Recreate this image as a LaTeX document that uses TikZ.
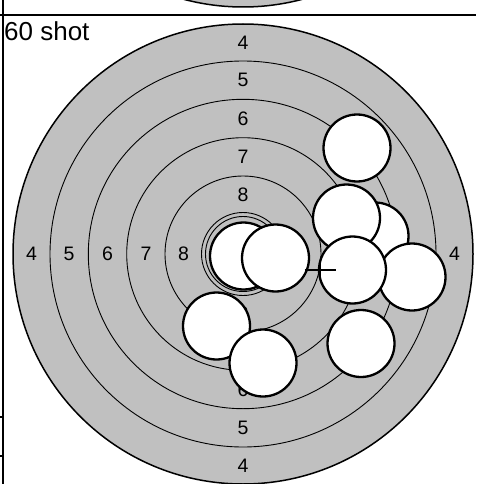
\documentclass[tikz,border=0pt]{standalone}
\usepackage{fontspec}
\setmainfont{Liberation Sans}
\usetikzlibrary{calc}
\definecolor{tgray}{RGB}{192,192,192}
\begin{document}
\begin{tikzpicture}[x=1pt,y=-1pt,
  ringline/.style={draw=black,line width=0.9pt},
  outerring/.style={fill=tgray,draw=black,line width=1.5pt},
  shotmark/.style={circle,draw=black,fill=white,line width=2.3pt,minimum size=67pt,inner sep=0pt},
  lbl/.style={font=\fontsize{19.5}{20}\selectfont,inner sep=0pt},
  frameline/.style={draw=black,line width=1.5pt}]
\useasboundingbox (0,0) rectangle (476,484);
\begin{scope}
\clip (0,0) rectangle (476,484);
% target above (cut off)
\path[outerring] (243,-223) circle (230pt);
% main target
\coordinate (c) at (243,254);
\path[outerring] (c) circle (230pt);
\foreach \r in {193,154.7,116.3,78,41.5,37.5}{
  \draw[ringline] (c) circle (\r pt);
}
\end{scope}
% frame lines
\draw[frameline] (0,15) -- (476,15);
\draw[frameline] (3,0) -- (3,484);
\draw[frameline] (0,417) -- (3,417);
\draw[frameline] (0,456) -- (3,456);
\node[anchor=base west,inner sep=0pt,font=\fontsize{26}{28}\selectfont] (title) at (4,41) {60 shot};
% ring labels
\foreach \n/\r in {4/211.5,5/174,6/135.5,7/97,8/59.5}{
  \node[lbl] (t\n) at ($(c)+(0,-\r)$) {\n};
  \node[lbl] (b\n) at ($(c)+(0,\r)$) {\n};
  \node[lbl] (l\n) at ($(c)+(-\r,0)$) {\n};
  \node[lbl] (r\n) at ($(c)+(\r,0)$) {\n};
}
% shots
\node[shotmark] (sC) at (375,236) {};
\node[shotmark] (sE) at (412,277) {};
\node[shotmark] (sB) at (346.5,218) {};
\node[shotmark] (sD) at (352.5,270) {};
\node[shotmark] (sA) at (357,148) {};
\node[shotmark] (sF) at (361,343.5) {};
\node[shotmark] (sI) at (243.5,256) {};
\node[shotmark] (sJ) at (275.5,258) {};
\node[shotmark] (sG) at (216.5,326) {};
\node[shotmark] (sH) at (263,363) {};
% group centre cross
\coordinate (gc) at (320,270);
\draw[line width=1.2pt] ($(gc)+(-15.5,0)$) -- ($(gc)+(16,0)$);
\draw[line width=1.2pt] ($(gc)+(0,-8)$) -- ($(gc)+(0,8)$);
\end{tikzpicture}
\end{document}
